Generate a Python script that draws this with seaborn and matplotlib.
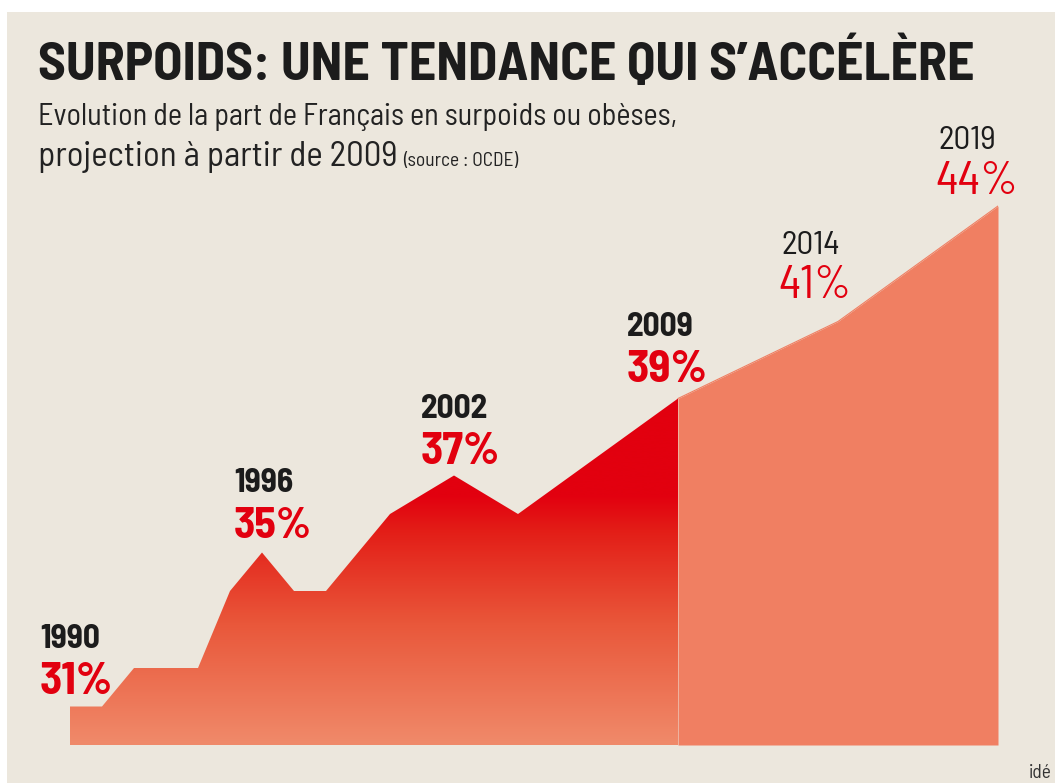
import numpy as np
import pandas as pd
import matplotlib
matplotlib.use("Agg")
import matplotlib.pyplot as plt
import seaborn as sns
from matplotlib import font_manager
from matplotlib.colors import LinearSegmentedColormap
from matplotlib.patches import Rectangle

# ---------------- data ----------------
hist_years = [1990, 1991, 1992, 1994, 1995, 1996, 1997, 1998, 2000, 2002, 2004, 2009]
hist_values = [31, 31, 32, 32, 34, 35, 34, 34, 36, 37, 36, 39]
proj_years = [2009, 2014, 2019]
proj_values = [39, 41, 44]
label_years_hist = [1990, 1996, 2002, 2009]
label_values_hist = [31, 35, 37, 39]
label_years_proj = [2014, 2019]
label_values_proj = [41, 44]

title = "SURPOIDS: UNE TENDANCE QUI S\u2019ACC\u00c9L\u00c8RE"
subtitle1 = "Evolution de la part de Fran\u00e7ais en surpoids ou ob\u00e8ses,"
subtitle2 = "projection \u00e0 partir de 2009"
source = "(source : OCDE)"
credit = "id\u00e9"

# ---------------- style ----------------
sns.set_theme(style="white")
available = {f.name for f in font_manager.fontManager.ttflist}


def pick(prefs):
    for p in prefs:
        if p in available:
            return p
    return "DejaVu Sans"


F_BOLD = pick(["Barlow Semi Condensed", "Fira Sans Condensed", "Encode Sans Semi Condensed",
               "Asap Condensed", "DejaVu Sans"])
F_REG = pick(["Barlow Semi Condensed", "Fira Sans Condensed", "Encode Sans Semi Condensed",
              "Asap Condensed", "DejaVu Sans"])
plt.rcParams['font.family'] = [F_REG, 'DejaVu Sans']

BG = "#ece7dd"
RED = "#e2000f"
SALMON = "#f07f62"
BOTTOM = "#f08a6a"
INK = "#1c1c1c"

W, H = 1055, 783
fig = plt.figure(figsize=(W / 100, H / 100), dpi=100)
fig.patch.set_facecolor("white")
fig.patches.append(Rectangle((7 / W, 0), 1 - 7 / W, 1 - 12 / H, transform=fig.transFigure,
                             facecolor=BG, edgecolor="none", zorder=-10))

left, right = 70, 998
ybase = 745
ppu = 38.5
ymax = 46
ax = fig.add_axes([left / W, (H - ybase) / H, (right - left) / W, (ymax - 30) * ppu / H])
ax.set_facecolor("none")
ax.set_xlim(1990, 2019)
ax.set_ylim(30, ymax)
ax.axis("off")

df_hist = pd.DataFrame({"year": hist_years, "value": hist_values})
df_proj = pd.DataFrame({"year": proj_years, "value": proj_values})

# projection area
ax.fill_between(df_proj["year"], 30, df_proj["value"], color=SALMON, lw=0, zorder=1)
sns.lineplot(data=df_proj, x="year", y="value", ax=ax, color=SALMON, lw=0.8, zorder=2)

# historical area with vertical gradient
poly = ax.fill_between(df_hist["year"], 30, df_hist["value"], color="none", lw=0, zorder=1)
cmap = LinearSegmentedColormap.from_list(
    "grad", [(0.0, BOTTOM), (0.35, "#e9573a"), (0.62, "#e31d17"), (0.72, RED), (1.0, RED)])
grad = np.linspace(0, 1, 400).reshape(-1, 1)
im = ax.imshow(grad, extent=[1990, 2009, 30, 39], origin="lower", aspect="auto",
               cmap=cmap, zorder=1.5, interpolation="bicubic")
im.set_clip_path(poly.get_paths()[0], transform=ax.transData)
sns.lineplot(data=df_hist, x="year", y="value", ax=ax, color=RED, lw=0.0, zorder=2)

fits = []  # (artist, target width px, max size)

# ---------------- labels ----------------
hist_offsets = [(-30, 13), (-28, 14), (-33, 11), (-51, 17)]
pct_w_hist = [73, 78, 79, 81]
year_w_hist = [63, 63, 72, 70]
for yr, v, (dx, dy), pw, yw in zip(label_years_hist, label_values_hist, hist_offsets,
                                    pct_w_hist, year_w_hist):
    a = ax.annotate(f"{v}%", xy=(yr, v), xytext=(dx, dy), textcoords="offset pixels",
                    ha="left", va="baseline", fontsize=35, fontweight="bold", color=RED,
                    family=[F_BOLD, "DejaVu Sans"])
    b = ax.annotate(f"{yr}", xy=(yr, v), xytext=(dx, dy + 46), textcoords="offset pixels",
                    ha="left", va="baseline", fontsize=23, fontweight="bold", color=INK,
                    family=[F_BOLD, "DejaVu Sans"])
    fits += [(a, pw, 36), (b, yw, 24)]

proj_offsets = [(-60, 23), (-63, 12)]
pct_w_proj = [73, 83]
year_w_proj = [60, 60]
for yr, v, (dx, dy), pw, yw in zip(label_years_proj, label_values_proj, proj_offsets,
                                    pct_w_proj, year_w_proj):
    a = ax.annotate(f"{v}%", xy=(yr, v), xytext=(dx, dy), textcoords="offset pixels",
                    ha="left", va="baseline", fontsize=36, color=RED)
    b = ax.annotate(f"{yr}", xy=(yr, v), xytext=(dx + 3, dy + 45), textcoords="offset pixels",
                    ha="left", va="baseline", fontsize=23, color=INK)
    fits += [(a, pw, 38), (b, yw, 24)]

# ---------------- titles ----------------
t0 = fig.text(38 / W, 1 - 80 / H, title, fontsize=40, fontweight="bold", color=INK,
              ha="left", va="baseline", family=[F_BOLD, "DejaVu Sans"])
t1 = fig.text(38 / W, 1 - 125 / H, subtitle1, fontsize=23, color="#222222",
              ha="left", va="baseline")
t2 = fig.text(38 / W, 1 - 166 / H, subtitle2, fontsize=23, color="#222222",
              ha="left", va="baseline")
fits += [(t0, 937, 52), (t1, 640, 28), (t2, 360, 28)]

fig.canvas.draw()
r = fig.canvas.get_renderer()
for art, tw, mx in fits:
    w = art.get_window_extent(r).width
    art.set_fontsize(min(mx, art.get_fontsize() * tw / w))
fig.canvas.draw()

bb = t2.get_window_extent(r)
ts = fig.text((bb.x1 + 6) / W, 1 - 166 / H, source, fontsize=15, color="#222222",
              ha="left", va="baseline")
fig.canvas.draw()
w = ts.get_window_extent(r).width
ts.set_fontsize(min(18, ts.get_fontsize() * 115 / w))

fig.text(1029 / W, 1 - 778 / H, credit, fontsize=14, color="#333333", ha="left", va="baseline")

fig.savefig("out.png", dpi=100, facecolor=fig.get_facecolor())
